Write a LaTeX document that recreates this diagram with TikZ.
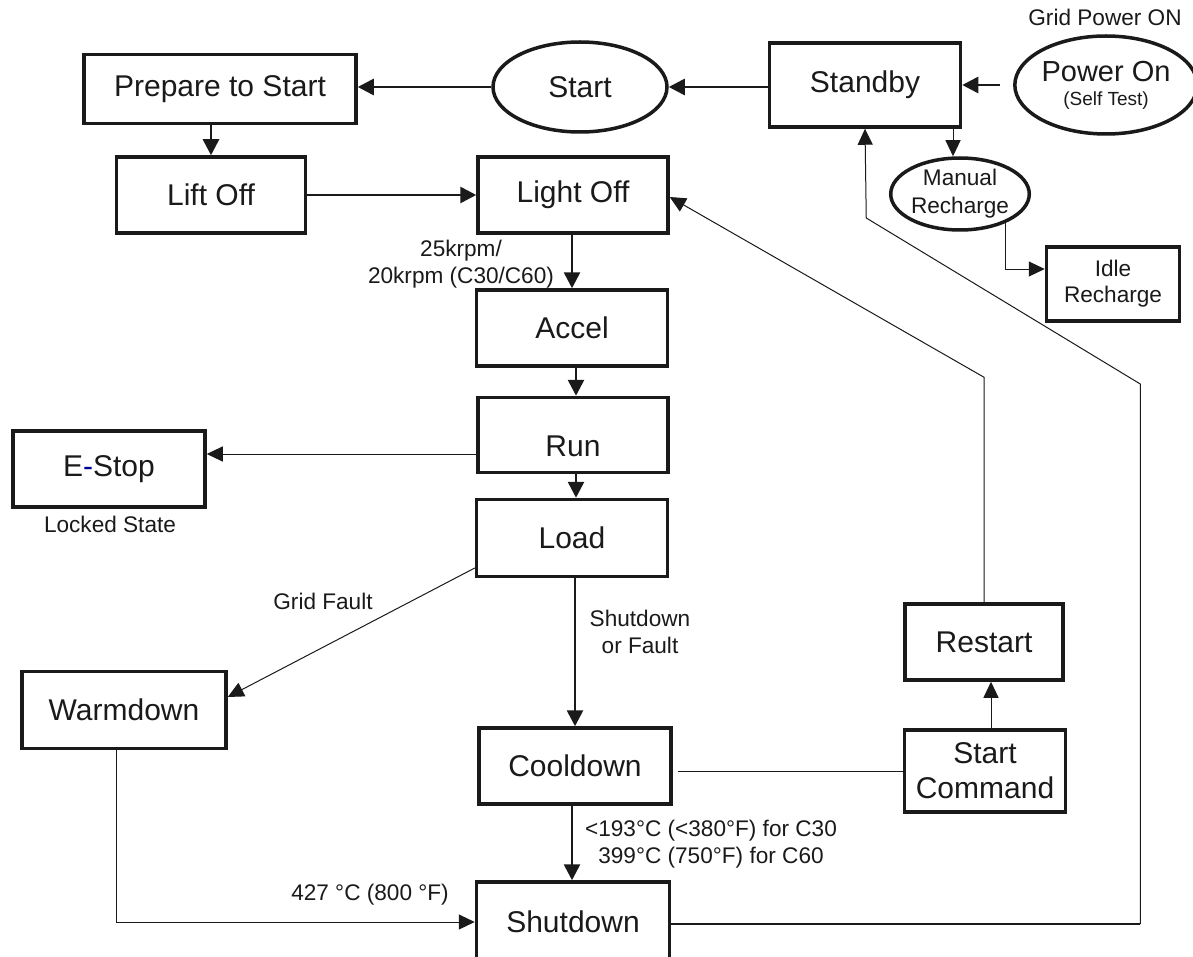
\documentclass[tikz,border=0pt]{standalone}
\usepackage{fontspec}
\setmainfont{Liberation Sans}
\usetikzlibrary{shapes.geometric,arrows.meta}
\definecolor{ink}{HTML}{1A1A1A}
\definecolor{dashblue}{HTML}{000099}
\begin{document}
\begin{tikzpicture}[x=0.5pt,y=-0.5pt,
  stbox/.style={draw=ink, line width=1.75pt, inner sep=0pt, align=center, font=\fontsize{15}{17.5}\selectfont, text=ink},
  stell/.style={stbox, ellipse},
  thk/.style={draw=ink, line width=1.35pt, -{Triangle[length=8pt,width=8pt]}},
  thn/.style={draw=ink, line width=0.5pt, -{Triangle[length=8pt,width=7.5pt]}},
  plainline/.style={draw=ink, line width=0.5pt},
  lbl/.style={font=\fontsize{11.3}{13.5}\selectfont, text=ink, align=center, inner sep=0pt},
]
\clip (0,0) rectangle (1193,957);
\fill[white] (0,0) rectangle (1193,957);

% nodes
\node[stbox, minimum width=95.5pt, minimum height=42pt] (standby) at (865,85) {Standby};
\node[stell, minimum width=86pt, minimum height=49pt, font=\fontsize{14.5}{12}\selectfont] (poweron) at (1106,85) {Power On\\{\fontsize{9.5}{12}\selectfont (Self Test)}};
\node[stell, minimum width=87pt, minimum height=45pt] (start) at (580,87) {Start};
\node[stbox, minimum width=136pt, minimum height=34.5pt] (prep) at (220,89) {Prepare to Start};
\node[stbox, minimum width=94.5pt, minimum height=38pt] (lift) at (211,195) {Lift Off};
\node[stbox, minimum width=95pt, minimum height=38pt] (light) at (573,195) {Light Off};
\node[stell, minimum width=67pt, minimum height=36pt, font=\fontsize{11.3}{14}\selectfont] (manual) at (960,194) {Manual\\Recharge};
\node[stbox, minimum width=66.5pt, minimum height=37pt, font=\fontsize{11.3}{13}\selectfont] (idle) at (1113,284) {Idle\\Recharge};
\node[stbox, minimum width=95.5pt, minimum height=38pt] (accel) at (572,328) {Accel};
\node[stbox, minimum width=95pt, minimum height=37.5pt,
      label={[font=\fontsize{15}{17.5}\selectfont, text=ink, yshift=-5.5pt]center:Run}] (run) at (573,435) {};
\node[stbox, minimum width=96pt, minimum height=38pt] (estop) at (109,469) {E{\color{dashblue}-}Stop};
\node[stbox, minimum width=95.5pt, minimum height=38.5pt] (load) at (572,538) {Load};
\node[stbox, minimum width=102pt, minimum height=38.5pt] (warm) at (124,710) {Warmdown};
\node[stbox, minimum width=96pt, minimum height=38pt] (cool) at (575,766) {Cooldown};
\node[stbox, minimum width=80.5pt, minimum height=41pt] (startcmd) at (985,771) {Start\\Command};
\node[stbox, minimum width=79pt, minimum height=38pt] (restart) at (984,642) {Restart};
\node[stbox, minimum width=96.5pt, minimum height=40pt] (shut) at (573,922) {Shutdown};

% connectors
\draw[thk] ([xshift=-6.5pt]poweron.west) -- (standby.east);
\draw[thk] (standby.west |- start.east) -- (start.east);
\draw[thk] (start.west) -- (start.west -| prep.east);
\draw[thk] (lift.north |- prep.south) -- (lift.north);
\draw[thk] (lift.east) -- (light.west);
\draw[thk] (accel.north |- light.south) -- (accel.north);
\draw[thk] ([xshift=2pt]accel.south) -- ([xshift=2pt]accel.south |- run.north);
\draw[thn] ([yshift=-9.5pt]run.west) -- ([yshift=-9.5pt]run.west -| estop.east);
\draw[thk] ([xshift=1.5pt]run.south) -- ([xshift=1.5pt]run.south |- load.north);
\draw[thn] ([yshift=-15pt]load.west) -- ([yshift=6.5pt]warm.east);
\draw[thk] ([xshift=1.5pt]load.south) -- ([xshift=1.5pt]load.south |- cool.north);
\draw[thk] ([xshift=-1.5pt]cool.south) -- ([xshift=-1.5pt]cool.south |- shut.north);
\draw[thn] ([xshift=-4pt]warm.south) |- (shut.west);
\draw[plainline] ([xshift=2.5pt]cool.east |- startcmd.west) -- (startcmd.west);
\draw[thn] ([xshift=3pt]startcmd.north) -- ([xshift=3pt]startcmd.north |- restart.south);
\draw[thn] (restart.north) -- ++(0,-225) -- ([yshift=-1pt]light.east);
\draw[draw=ink, line width=1.35pt] ([yshift=-1pt]shut.east) -- ++(469,0) coordinate (sb1);
\draw[thn] (sb1) -- ++(0,-540) -- ++(-274,-166) -- (standby.south);
\draw[thn] ([xshift=-3.5pt]manual.north |- standby.south) -- ([xshift=-3.5pt]manual.north);
\draw[thn] (manual.-33) |- ([yshift=7.5pt]idle.west);

% labels
\node[lbl] (gridon) at (1105,17) {Grid Power ON};
\node[lbl] (krpm) at (461,264) {25krpm/\\20krpm (C30/C60)};
\node[lbl] (sdfault) at (640,632) {Shutdown\\or Fault};
\node[lbl] (temps) at (711,844) {<193°C (<380°F) for C30\\399°C (750°F) for C60};
\node[lbl] (t427) at (370,895) {427 °C (800 °F)};
\node[lbl] (gfault) at (323,601) {Grid Fault};
\node[lbl] (locked) at (110,524) {Locked State};
\end{tikzpicture}
\end{document}
